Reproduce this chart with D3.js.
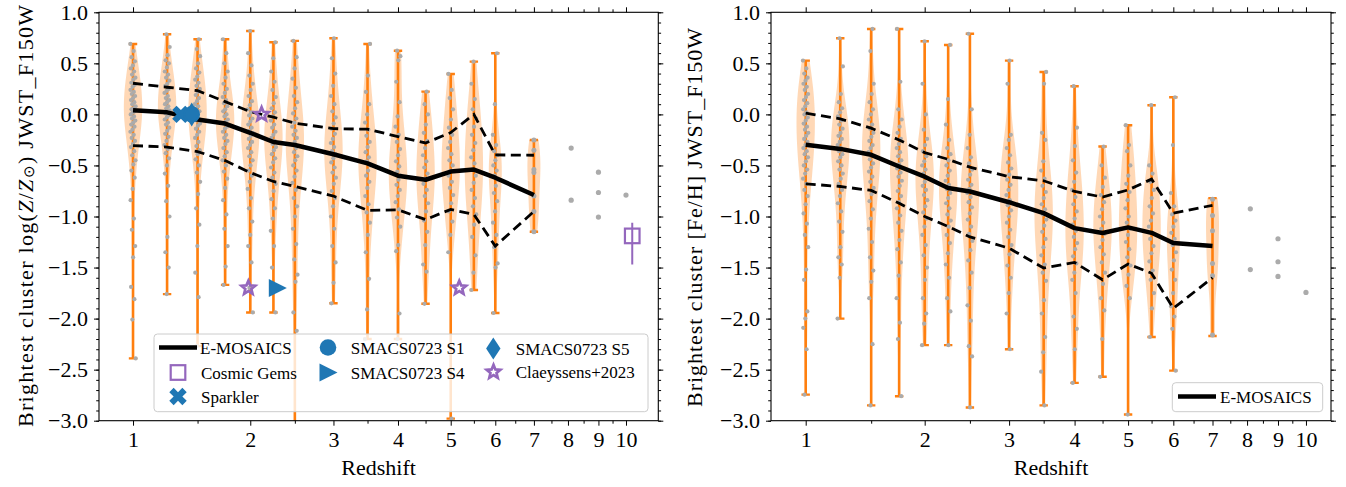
<!DOCTYPE html>
<html><head><meta charset="utf-8">
<script src="https://cdn.jsdelivr.net/npm/d3@7"></script>
<style>body{margin:0;background:#fff;}</style></head><body>
<svg id="c" width="1346" height="487"></svg>
<script>
// ---------------- DATA ----------------
const bins=[1,1.25,1.5,1.75,2,2.25,2.5,3,3.5,4,4.5,5,5.5,6,7];
const xMajor=[1,2,3,4,5,6,7,8,9,10];
const xMinor=[1.5,2.5,3.5,4.5,5.5,6.5,7.5,8.5,9.5];
const yMajor=[-3,-2.5,-2,-1.5,-1,-0.5,0,0.5,1];

// Left panel: log(Z/Zsun)
const metMedian=[0.04,0.02,-0.05,-0.09,-0.18,-0.27,-0.30,-0.39,-0.48,-0.60,-0.64,-0.56,-0.54,-0.62,-0.79];
const metP84=[0.305,0.266,0.233,0.125,0.027,-0.027,-0.086,-0.14,-0.145,-0.217,-0.28,-0.178,0.0,-0.397,-0.40];
const metP16=[-0.305,-0.32,-0.364,-0.452,-0.57,-0.657,-0.706,-0.80,-0.94,-0.935,-1.03,-0.93,-0.98,-1.29,-0.95];
const metMax=[0.69,0.785,0.736,0.736,0.817,0.706,0.72,0.746,0.69,0.624,0.223,0.396,0.517,0.599,-0.25];
const metMin=[-2.39,-1.76,-2.27,-1.67,-1.94,-1.94,-3.2,-1.85,-2.2,-2.2,-1.855,-2.98,-1.72,-1.945,-1.15];
const metSamples=[
"0.69 0.62 0.56 0.52 0.48 0.45 0.42 0.39 0.36 0.34 0.31 0.29 0.27 0.24 0.22 0.2 0.18 0.16 0.14 0.12 0.1 0.08 0.06 0.05 0.03 0.02 0.0 -0.02 -0.04 -0.06 -0.08 -0.1 -0.12 -0.15 -0.17 -0.2 -0.23 -0.26 -0.29 -0.32 -0.36 -0.4 -0.45 -0.49 -0.55 -0.62 -0.73 -0.84 -1.02 -1.13 -1.29 -1.4 -1.69 -1.81 -2.01 -2.39",
"0.785 0.66 0.58 0.53 0.5 0.46 0.42 0.39 0.36 0.33 0.3 0.28 0.25 0.23 0.21 0.18 0.16 0.14 0.12 0.1 0.08 0.06 0.04 0.02 0.01 -0.01 -0.03 -0.05 -0.08 -0.1 -0.13 -0.16 -0.19 -0.22 -0.26 -0.3 -0.34 -0.38 -0.43 -0.5 -0.58 -0.7 -0.85 -1.0 -1.2 -1.35 -1.5 -1.76",
"0.736 0.64 0.57 0.5 0.45 0.41 0.37 0.34 0.31 0.28 0.25 0.22 0.19 0.16 0.13 0.1 0.08 0.05 0.03 0.01 -0.02 -0.04 -0.06 -0.09 -0.11 -0.14 -0.17 -0.2 -0.23 -0.27 -0.31 -0.35 -0.39 -0.44 -0.5 -0.57 -0.66 -0.78 -0.92 -1.08 -1.29 -1.55 -1.79 -2.27",
"0.736 0.6 0.5 0.42 0.36 0.3 0.25 0.21 0.17 0.14 0.11 0.08 0.05 0.03 0.0 -0.02 -0.05 -0.07 -0.09 -0.12 -0.14 -0.17 -0.2 -0.23 -0.26 -0.29 -0.33 -0.37 -0.41 -0.45 -0.5 -0.56 -0.63 -0.72 -0.84 -0.98 -1.12 -1.29 -1.49 -1.67",
"0.817 0.6 0.48 0.38 0.3 0.24 0.18 0.13 0.09 0.05 0.02 -0.01 -0.04 -0.07 -0.1 -0.13 -0.16 -0.18 -0.21 -0.24 -0.27 -0.3 -0.33 -0.37 -0.41 -0.45 -0.5 -0.55 -0.6 -0.66 -0.73 -0.82 -0.92 -1.05 -1.18 -1.29 -1.45 -1.7 -1.94",
"0.706 0.55 0.42 0.32 0.24 0.17 0.11 0.06 0.02 -0.02 -0.06 -0.1 -0.13 -0.17 -0.2 -0.23 -0.26 -0.29 -0.32 -0.35 -0.39 -0.43 -0.47 -0.52 -0.57 -0.62 -0.68 -0.75 -0.83 -0.92 -1.02 -1.14 -1.29 -1.5 -1.94",
"0.72 0.56 0.45 0.35 0.26 0.18 0.12 0.06 0.01 -0.04 -0.08 -0.12 -0.16 -0.2 -0.23 -0.27 -0.3 -0.33 -0.37 -0.41 -0.45 -0.5 -0.55 -0.61 -0.67 -0.74 -0.82 -0.9 -1.0 -1.12 -1.27 -1.42 -1.57 -1.64 -1.94 -2.12",
"0.746 0.55 0.4 0.28 0.18 0.1 0.03 -0.03 -0.09 -0.14 -0.19 -0.24 -0.28 -0.32 -0.36 -0.39 -0.43 -0.47 -0.52 -0.57 -0.62 -0.68 -0.75 -0.82 -0.9 -1.0 -1.12 -1.29 -1.45 -1.65 -1.85",
"0.69 0.38 0.22 0.1 0.0 -0.08 -0.15 -0.21 -0.27 -0.32 -0.37 -0.42 -0.46 -0.5 -0.55 -0.6 -0.66 -0.72 -0.8 -0.88 -0.96 -1.06 -1.18 -1.35 -1.61 -1.91 -2.2",
"0.624 0.57 0.53 0.32 0.12 -0.02 -0.12 -0.2 -0.27 -0.34 -0.4 -0.46 -0.51 -0.56 -0.6 -0.64 -0.69 -0.74 -0.8 -0.86 -0.93 -1.01 -1.1 -1.28 -1.34 -1.95 -2.2",
"0.223 0.1 0.0 -0.1 -0.18 -0.26 -0.33 -0.4 -0.46 -0.52 -0.58 -0.63 -0.68 -0.74 -0.8 -0.87 -0.95 -1.04 -1.15 -1.28 -1.47 -1.54 -1.855",
"0.396 0.24 0.16 0.05 -0.05 -0.13 -0.2 -0.27 -0.33 -0.39 -0.45 -0.5 -0.55 -0.6 -0.66 -0.72 -0.79 -0.87 -0.95 -1.05 -1.18 -1.35 -2.98",
"0.517 0.3 0.15 0.05 -0.04 -0.12 -0.2 -0.28 -0.35 -0.42 -0.48 -0.54 -0.6 -0.67 -0.74 -0.82 -0.9 -0.98 -1.08 -1.2 -1.38 -1.55 -1.72",
"0.599 0.1 -0.2 -0.3 -0.36 -0.4 -0.45 -0.5 -0.55 -0.6 -0.64 -0.7 -0.77 -0.85 -0.95 -1.06 -1.18 -1.3 -1.46 -1.5 -1.945",
"-0.25 -0.35 -0.54 -0.57 -0.80 -0.95 -1.15"
];
const metExtraZ=[8.1,8.1,9,9,9,10];
const metExtraV=[-0.33,-0.84,-0.566,-0.765,-1.006,-0.79];

// Right panel: [Fe/H]
const feMedian=[-0.298,-0.338,-0.396,-0.51,-0.61,-0.72,-0.755,-0.86,-0.967,-1.114,-1.162,-1.107,-1.16,-1.26,-1.29];
const feP84=[0.012,-0.044,-0.135,-0.25,-0.374,-0.44,-0.517,-0.61,-0.65,-0.755,-0.81,-0.74,-0.634,-0.967,-0.89];
const feP16=[-0.68,-0.706,-0.745,-0.87,-1.0,-1.098,-1.2,-1.31,-1.505,-1.45,-1.62,-1.465,-1.556,-1.9,-1.6];
const feMax=[0.527,0.746,0.837,0.837,0.716,0.68,0.79,0.527,0.416,0.276,-0.315,-0.106,0.09,0.168,-0.82];
const feMin=[-2.745,-2.0,-2.85,-2.76,-2.26,-2.26,-2.87,-2.30,-2.85,-2.63,-2.57,-2.94,-2.18,-2.51,-2.17];
const feSamples=[
"0.527 0.45 0.4 0.36 0.33 0.3 0.27 0.24 0.2 0.17 0.14 0.11 0.08 0.05 0.02 0.0 -0.03 -0.06 -0.09 -0.12 -0.15 -0.18 -0.21 -0.24 -0.27 -0.3 -0.33 -0.36 -0.39 -0.42 -0.46 -0.5 -0.54 -0.58 -0.63 -0.68 -0.74 -0.8 -0.88 -0.97 -1.07 -1.18 -1.3 -1.52 -1.62 -1.93 -2.0 -2.09 -2.3 -2.745",
"0.746 0.47 0.2 0.12 0.06 0.02 -0.02 -0.06 -0.1 -0.14 -0.18 -0.21 -0.24 -0.27 -0.3 -0.33 -0.36 -0.39 -0.42 -0.46 -0.5 -0.54 -0.58 -0.63 -0.68 -0.74 -0.8 -0.87 -0.95 -1.05 -1.15 -1.3 -1.4 -1.47 -1.6 -2.0",
"0.837 0.62 0.3 0.2 0.12 0.05 0.0 -0.05 -0.1 -0.14 -0.18 -0.22 -0.26 -0.3 -0.33 -0.37 -0.4 -0.44 -0.48 -0.52 -0.56 -0.61 -0.66 -0.72 -0.78 -0.85 -0.93 -1.02 -1.12 -1.25 -1.4 -1.53 -1.64 -1.8 -2.25 -2.85",
"0.837 0.32 0.05 -0.05 -0.12 -0.18 -0.24 -0.29 -0.33 -0.37 -0.41 -0.45 -0.49 -0.53 -0.57 -0.61 -0.65 -0.7 -0.75 -0.8 -0.86 -0.92 -0.99 -1.06 -1.14 -1.23 -1.32 -1.45 -1.58 -1.8 -2.04 -2.2 -2.76",
"0.716 0.3 0.0 -0.15 -0.24 -0.3 -0.36 -0.41 -0.46 -0.5 -0.54 -0.58 -0.62 -0.66 -0.7 -0.74 -0.79 -0.84 -0.9 -0.96 -1.02 -1.1 -1.18 -1.28 -1.38 -1.5 -1.62 -1.8 -1.95 -2.05 -2.26",
"0.68 0.15 -0.1 -0.25 -0.33 -0.39 -0.45 -0.5 -0.55 -0.6 -0.65 -0.69 -0.73 -0.77 -0.82 -0.87 -0.92 -0.98 -1.04 -1.1 -1.18 -1.26 -1.36 -1.47 -1.6 -1.8 -1.93 -2.26",
"0.79 0.05 -0.2 -0.33 -0.42 -0.48 -0.54 -0.59 -0.64 -0.69 -0.73 -0.77 -0.81 -0.86 -0.91 -0.97 -1.03 -1.1 -1.17 -1.24 -1.33 -1.43 -1.55 -1.7 -1.87 -2.02 -2.27 -2.37 -2.87",
"0.527 0.3 -0.2 -0.25 -0.33 -0.4 -0.47 -0.53 -0.59 -0.64 -0.69 -0.74 -0.79 -0.84 -0.89 -0.94 -1.0 -1.06 -1.13 -1.2 -1.28 -1.37 -1.48 -1.6 -1.75 -1.95 -2.3",
"0.416 0.3 -0.18 -0.25 -0.46 -0.55 -0.63 -0.7 -0.76 -0.82 -0.88 -0.93 -0.98 -1.03 -1.09 -1.15 -1.22 -1.3 -1.38 -1.47 -1.55 -1.63 -1.82 -1.95 -2.18 -2.33 -2.52 -2.85",
"0.276 -0.13 -0.31 -0.45 -0.57 -0.66 -0.74 -0.81 -0.88 -0.95 -1.02 -1.08 -1.14 -1.2 -1.26 -1.32 -1.39 -1.46 -1.55 -1.62 -1.75 -1.98 -2.1 -2.3 -2.63",
"-0.315 -0.5 -0.62 -0.71 -0.79 -0.86 -0.93 -1.0 -1.06 -1.12 -1.17 -1.23 -1.3 -1.37 -1.45 -1.55 -1.66 -1.8 -1.92 -2.2 -2.57",
"-0.106 -0.3 -0.36 -0.5 -0.6 -0.68 -0.76 -0.84 -0.92 -1.0 -1.06 -1.12 -1.18 -1.25 -1.32 -1.4 -1.48 -1.57 -1.68 -1.8 -2.94",
"0.09 -0.5 -0.58 -0.66 -0.74 -0.82 -0.9 -0.97 -1.04 -1.1 -1.16 -1.22 -1.29 -1.36 -1.44 -1.53 -1.62 -1.75 -1.9 -2.18",
"0.168 -0.3 -0.77 -0.9 -0.98 -1.04 -1.1 -1.16 -1.22 -1.28 -1.35 -1.43 -1.52 -1.62 -1.75 -1.88 -1.98 -2.1 -2.51",
"-0.83 -0.99 -1.14 -1.46 -1.58 -2.16"
];
const feExtraZ=[8.1,8.1,9,9,9,10];
const feExtraV=[-0.925,-1.52,-1.218,-1.443,-1.587,-1.744];

// Observations (left panel)
const sparklerZ=[1.36], sparklerV=[0.0];
const s1Z=[1.45], s1V=[0.0];
const s4Z=[2.30], s4V=[-1.70];
const s5Z=[1.45], s5V=[0.0];
const claeyZ=[2.12,1.98,5.18], claeyV=[0.0,-1.70,-1.70];
const gemsZ=[10.24], gemsV=[-1.19], gemsErrLo=[0.28], gemsErrHi=[0.13];

const legendLeft=["E-MOSAICS","Cosmic Gems","Sparkler","SMACS0723 S1","SMACS0723 S4","SMACS0723 S5","Claeyssens+2023"];
const legendRight=["E-MOSAICS"];

// ---------------- DRAW ----------------
const FONT='"Liberation Serif"';
const svg=d3.select("#c");
const defs=svg.append("defs");
const yTop=12.3, yBot=420.7;
const y=d3.scaleLinear().domain([-3,1]).range([yBot,yTop]);
const ORANGE="#ff7f0e", BLUE="#1f77b4", PURPLE="#9467bd", GREY="#ababab";
const parse=s=>s.trim().split(/\s+/).map(Number);

function starPath(R,r){const p=[];for(let k=0;k<10;k++){const a=-Math.PI/2+k*Math.PI/5;const rr=k%2?r:R;p.push([rr*Math.cos(a),rr*Math.sin(a)]);}return "M"+p.map(q=>q[0].toFixed(2)+","+q[1].toFixed(2)).join("L")+"Z";}
const diamondPath=(w,h)=>`M0,${-h}L${w},0L0,${h}L${-w},0Z`;
const triRightPath=s=>`M${s},0L${-s},${-s}L${-s},${s}Z`;
const xPath=d3.symbol(d3.symbolCross,190)();

function panel(cfg){
  const g=svg.append("g");
  const xs=d3.scaleLog().domain(cfg.zDomain.map(z=>1+z)).range([cfg.x0,cfg.x1]);
  const x=z=>xs(1+z);
  const cid="clip"+cfg.id;
  defs.append("clipPath").attr("id",cid).append("rect")
    .attr("x",cfg.x0).attr("y",yTop).attr("width",cfg.x1-cfg.x0).attr("height",yBot-yTop);
  const plot=g.append("g").attr("clip-path",`url(#${cid})`);

  const samples=cfg.samples.map(parse);
  // violins
  bins.forEach((z,i)=>{
    const vals=samples[i].slice().sort(d3.ascending);
    const n=vals.length;
    const sd=d3.deviation(vals);
    const iqr=d3.quantile(vals,0.75)-d3.quantile(vals,0.25);
    const bw=0.9*Math.min(sd,iqr/1.34)*Math.pow(n,-0.2);
    const lo=cfg.min[i], hi=cfg.max[i];
    const pts=d3.range(0,101).map(k=>{const v=lo+(hi-lo)*k/100;let s=0;for(const u of vals){const t=(v-u)/bw;s+=Math.exp(-0.5*t*t);}return [v,s];});
    const m=d3.max(pts,d=>d[1]);
    const hw=i>=13?6.5:9.2;
    const cx=x(z);
    plot.append("path").datum(pts)
      .attr("d",d3.area().y(d=>y(d[0])).x0(d=>cx-d[1]/m*hw).x1(d=>cx+d[1]/m*hw).curve(d3.curveBasis))
      .attr("fill",ORANGE).attr("fill-opacity",0.3);
  });
  // whiskers
  bins.forEach((z,i)=>{
    const cx=x(z);
    plot.append("line").attr("x1",cx).attr("x2",cx).attr("y1",y(cfg.min[i])).attr("y2",y(cfg.max[i]))
      .attr("stroke",ORANGE).attr("stroke-width",2.6);
    [cfg.min[i],cfg.max[i]].forEach(v=>plot.append("line").attr("x1",cx-4.2).attr("x2",cx+4.2)
      .attr("y1",y(v)).attr("y2",y(v)).attr("stroke",ORANGE).attr("stroke-width",2.4));
  });
  // dots
  bins.forEach((z,i)=>{
    const cx=x(z);
    const vals=samples[i];
    const r=i>=14?2.5:2.1;
    const jw=i>=14?0:2.7;
    plot.append("g").selectAll("circle").data(vals).join("circle")
      .attr("cx",(d,k)=>cx+(((k*0.618034+i*0.37)%1)-0.5)*2*jw)
      .attr("cy",d=>y(d)).attr("r",r).attr("fill",GREY);
  });
  plot.append("g").selectAll("circle").data(cfg.extraZ).join("circle")
    .attr("cx",d=>x(d)).attr("cy",(d,k)=>y(cfg.extraV[k])).attr("r",2.6).attr("fill",GREY);
  // lines
  const line=d3.line().x((d,k)=>x(bins[k])).y(d=>y(d));
  plot.append("path").datum(cfg.p84).attr("d",line).attr("fill","none").attr("stroke","#000").attr("stroke-width",2.8).attr("stroke-dasharray","10,5.5");
  plot.append("path").datum(cfg.p16).attr("d",line).attr("fill","none").attr("stroke","#000").attr("stroke-width",2.8).attr("stroke-dasharray","10,5.5");
  plot.append("path").datum(cfg.median).attr("d",line).attr("fill","none").attr("stroke","#000").attr("stroke-width",4.5).attr("stroke-linejoin","round");

  if(cfg.obs){
    gemsZ.forEach((z,k)=>{
      plot.append("line").attr("x1",x(z)).attr("x2",x(z)).attr("y1",y(gemsV[k]-gemsErrLo[k])).attr("y2",y(gemsV[k]+gemsErrHi[k])).attr("stroke",PURPLE).attr("stroke-width",2);
      plot.append("rect").attr("x",x(z)-7.3).attr("y",y(gemsV[k])-7.3).attr("width",14.6).attr("height",14.6).attr("fill","none").attr("stroke",PURPLE).attr("stroke-width",2.2);
    });
    sparklerZ.forEach((z,k)=>plot.append("path").attr("d",xPath).attr("transform",`translate(${x(z)},${y(sparklerV[k])}) rotate(45)`).attr("fill",BLUE));
    s1Z.forEach((z,k)=>plot.append("circle").attr("cx",x(z)).attr("cy",y(s1V[k])).attr("r",8.3).attr("fill",BLUE));
    s4Z.forEach((z,k)=>plot.append("path").attr("d",triRightPath(9)).attr("transform",`translate(${x(z)},${y(s4V[k])})`).attr("fill",BLUE));
    s5Z.forEach((z,k)=>plot.append("path").attr("d",diamondPath(7.2,12)).attr("transform",`translate(${x(z)},${y(s5V[k])})`).attr("fill",BLUE));
    claeyZ.forEach((z,k)=>plot.append("path").attr("d",starPath(7.2,3.2)).attr("transform",`translate(${x(z)},${y(claeyV[k])})`).attr("fill","none").attr("stroke",PURPLE).attr("stroke-width",2.7));
  }

  // axes
  const fs="22px";
  const ax=g.append("g");
  ax.append("g").attr("transform",`translate(0,${yBot})`)
    .call(d3.axisBottom(xs).tickValues(xMajor.map(z=>1+z)).tickFormat(v=>String(Math.round(v-1))).tickSize(5).tickPadding(6).tickSizeOuter(0));
  ax.append("g").attr("transform",`translate(0,${yBot})`).call(d3.axisBottom(xs).tickValues(xMinor.map(z=>1+z)).tickFormat("").tickSize(3).tickSizeOuter(0));
  ax.append("g").attr("transform",`translate(0,${yTop})`).call(d3.axisTop(xs).tickValues(xMajor.map(z=>1+z)).tickFormat("").tickSize(5).tickSizeOuter(0));
  ax.append("g").attr("transform",`translate(0,${yTop})`).call(d3.axisTop(xs).tickValues(xMinor.map(z=>1+z)).tickFormat("").tickSize(3).tickSizeOuter(0));
  const yMinor=d3.range(-30,11).map(k=>k/10);
  ax.append("g").attr("transform",`translate(${cfg.x0},0)`).call(d3.axisLeft(y).tickValues(yMajor).tickFormat(d3.format(".1f")).tickSize(5).tickPadding(6).tickSizeOuter(0));
  ax.append("g").attr("transform",`translate(${cfg.x0},0)`).call(d3.axisLeft(y).tickValues(yMinor).tickFormat("").tickSize(2.8).tickSizeOuter(0));
  ax.append("g").attr("transform",`translate(${cfg.x1},0)`).call(d3.axisRight(y).tickValues(yMajor).tickFormat("").tickSize(5).tickSizeOuter(0));
  ax.append("g").attr("transform",`translate(${cfg.x1},0)`).call(d3.axisRight(y).tickValues(yMinor).tickFormat("").tickSize(2.8).tickSizeOuter(0));
  ax.selectAll(".domain").remove();
  ax.selectAll(".tick line").attr("stroke","#000").attr("stroke-width",1);
  ax.selectAll(".tick text").attr("font-size",fs).style("font-family",FONT).attr("fill","#000");
  g.append("rect").attr("x",cfg.x0).attr("y",yTop).attr("width",cfg.x1-cfg.x0).attr("height",yBot-yTop)
    .attr("fill","none").attr("stroke","#000").attr("stroke-width",1.1);

  // axis labels
  g.append("text").attr("x",(cfg.x0+cfg.x1)/2).attr("y",475).attr("text-anchor","middle").attr("font-size",fs).style("font-family",FONT).text("Redshift");
  const yl=g.append("text").attr("transform",`translate(${cfg.ylx},${cfg.ylc}) rotate(-90)`)
    .attr("text-anchor","middle").attr("dominant-baseline","central").attr("font-size",fs).style("font-family",FONT)
    .attr("textLength",cfg.yllen).attr("lengthAdjust","spacing");
  cfg.ylabel(yl);

  // legend
  const L=cfg.legend;
  const lg=g.append("g");
  lg.append("rect").attr("x",L.x).attr("y",L.y).attr("width",L.w).attr("height",L.h).attr("rx",3.5)
    .attr("fill","#fff").attr("fill-opacity",0.8).attr("stroke","#cccccc").attr("stroke-width",1);
  L.items.forEach(it=>{
    const [hx,hy]=it.pos;
    if(it.kind==="line") lg.append("line").attr("x1",hx-19).attr("x2",hx+19).attr("y1",hy).attr("y2",hy).attr("stroke","#000").attr("stroke-width",4.5);
    if(it.kind==="square") lg.append("rect").attr("x",hx-7.3).attr("y",hy-7.3).attr("width",14.6).attr("height",14.6).attr("fill","none").attr("stroke",PURPLE).attr("stroke-width",2.2);
    if(it.kind==="x") lg.append("path").attr("d",xPath).attr("transform",`translate(${hx},${hy}) rotate(45)`).attr("fill",BLUE);
    if(it.kind==="circle") lg.append("circle").attr("cx",hx).attr("cy",hy).attr("r",8.3).attr("fill",BLUE);
    if(it.kind==="tri") lg.append("path").attr("d",triRightPath(9)).attr("transform",`translate(${hx},${hy})`).attr("fill",BLUE);
    if(it.kind==="diamond") lg.append("path").attr("d",diamondPath(7.2,11)).attr("transform",`translate(${hx},${hy})`).attr("fill",BLUE);
    if(it.kind==="star") lg.append("path").attr("d",starPath(7.2,3.2)).attr("transform",`translate(${hx},${hy})`).attr("fill","none").attr("stroke",PURPLE).attr("stroke-width",2.7);
    lg.append("text").attr("x",it.tx).attr("y",hy+6).attr("font-size","17px").style("font-family",FONT).text(it.label);
  });
}

panel({
  id:"L", x0:99, x1:658.3, zDomain:[0.778,11.30],
  median:metMedian,p84:metP84,p16:metP16,max:metMax,min:metMin,samples:metSamples,
  extraZ:metExtraZ,extraV:metExtraV,obs:true, ylx:25, ylc:216, yllen:422,
  ylabel:t=>{t.append("tspan").text("Brightest cluster log(");
    t.append("tspan").attr("font-style","italic").text("Z");
    t.append("tspan").text("/");
    t.append("tspan").attr("font-style","italic").text("Z");
    t.append("tspan").attr("font-size","15px").attr("dy","4").text("⊙");
    t.append("tspan").attr("dy","-4").text(") JWST_F150W");},
  legend:{x:154,y:334,w:494,h:77.7,items:[
    {kind:"line",pos:[178,347.5],tx:200,label:legendLeft[0]},
    {kind:"square",pos:[178,372.5],tx:201,label:legendLeft[1]},
    {kind:"x",pos:[178,396.5],tx:201,label:legendLeft[2]},
    {kind:"circle",pos:[328,347.5],tx:350.7,label:legendLeft[3]},
    {kind:"tri",pos:[328.5,372.5],tx:350.7,label:legendLeft[4]},
    {kind:"diamond",pos:[493.3,348.5],tx:515.7,label:legendLeft[5]},
    {kind:"star",pos:[493.5,372],tx:515.7,label:legendLeft[6]}
  ]}
});
panel({
  id:"R", x0:771, x1:1331, zDomain:[0.777,10.98],
  median:feMedian,p84:feP84,p16:feP16,max:feMax,min:feMin,samples:feSamples,
  extraZ:feExtraZ,extraV:feExtraV,obs:false, ylx:694, ylc:217.5, yllen:379,
  ylabel:t=>{t.text("Brightest cluster [Fe/H] JWST_F150W");},
  legend:{x:1172.3,y:382.7,w:150.4,h:29,items:[
    {kind:"line",pos:[1197,396.5],tx:1220,label:legendRight[0]}
  ]}
});
</script></body></html>
